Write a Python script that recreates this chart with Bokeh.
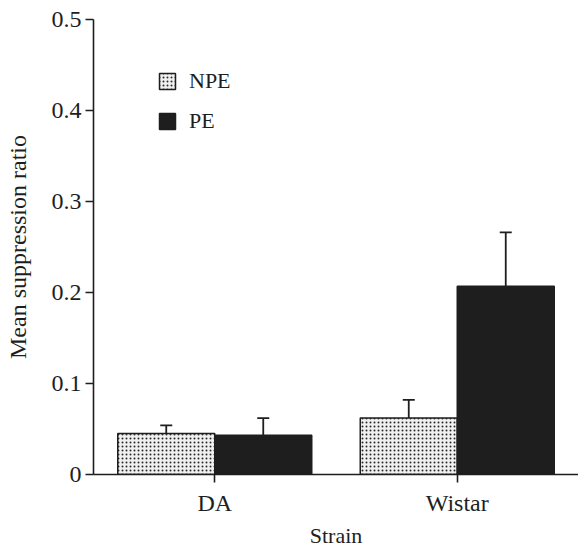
from bokeh.plotting import figure
from bokeh.models import (ColumnDataSource, FactorRange, FixedTicker, Whisker, TeeHead,
                          Legend, LegendItem, Range1d)
from bokeh.transform import dodge
from bokeh.embed import file_html
from bokeh.resources import INLINE

# ---- data ----
strains = ["DA", "Wistar"]
npe_mean = [0.045, 0.062]
npe_lower = [0.035, 0.042]
npe_upper = [0.054, 0.082]
pe_mean = [0.043, 0.207]
pe_upper = [0.062, 0.266]
y_ticks = [0, 0.1, 0.2, 0.3, 0.4, 0.5]
y_tick_labels = ["0", "0.1", "0.2", "0.3", "0.4", "0.5"]

FONT = "Liberation Serif"
DARK = "#1e1e1e"

src = ColumnDataSource(dict(strain=strains, npe=npe_mean, npe_lo=npe_lower, npe_hi=npe_upper,
                            pe=pe_mean, pe_hi=pe_upper))

p = figure(width=578, height=550, x_range=FactorRange(factors=strains, range_padding=0),
           y_range=Range1d(0, 0.5), output_backend="svg", toolbar_location=None,
           min_border_left=93, min_border_right=0, min_border_top=19, min_border_bottom=73)
p.outline_line_color = None
p.xgrid.grid_line_color = None
p.ygrid.grid_line_color = None
p.background_fill_color = "white"
p.border_fill_color = "white"

r_npe = p.vbar(x=dodge("strain", -0.2, range=p.x_range), top="npe", width=0.4, bottom=0, source=src,
               fill_color="#f0f0f0", line_color=DARK, line_width=1.5,
               hatch_pattern="dot", hatch_scale=4, hatch_weight=1.6, hatch_color="#2a2a2a")
r_pe = p.vbar(x=dodge("strain", 0.2, range=p.x_range), top="pe", width=0.4, bottom=0, source=src,
              fill_color=DARK, line_color=DARK, line_width=1.5)

w1 = Whisker(base=dodge("strain", -0.2, range=p.x_range), upper="npe_hi", lower="npe_lo", source=src,
             line_color=DARK, line_width=1.8,
             upper_head=TeeHead(size=12, line_color=DARK, line_width=1.8),
             lower_head=TeeHead(size=12, line_color=DARK, line_width=1.8))
w2 = Whisker(base=dodge("strain", 0.2, range=p.x_range), upper="pe_hi", lower="pe", source=src,
             line_color=DARK, line_width=1.8,
             upper_head=TeeHead(size=12, line_color=DARK, line_width=1.8), lower_head=None)
p.add_layout(w1)
p.add_layout(w2)

# axes
for ax in (p.xaxis[0], p.yaxis[0]):
    ax.axis_line_color = DARK
    ax.axis_line_width = 1.6
    ax.major_tick_line_color = DARK
    ax.major_tick_line_width = 1.6
    ax.minor_tick_line_color = None
    ax.major_tick_in = 0
    ax.major_label_text_font = FONT
    ax.major_label_text_font_size = "24px"
    ax.major_label_text_color = DARK
    ax.axis_label_text_font = FONT
    ax.axis_label_text_font_size = "24px"
    ax.axis_label_text_font_style = "normal"
    ax.axis_label_text_color = DARK

p.yaxis.ticker = FixedTicker(ticks=y_ticks)
p.yaxis.major_label_overrides = dict(zip(y_ticks, y_tick_labels))
p.yaxis.major_tick_out = 8
p.yaxis.major_label_standoff = 4
p.yaxis.axis_label = "Mean suppression ratio"
p.yaxis.axis_label_standoff = 18

p.xaxis.major_tick_out = 8
p.xaxis.major_label_standoff = 7
p.xaxis.axis_label = "Strain"
p.xaxis.axis_label_text_font_size = "22px"
p.xaxis.axis_label_standoff = 4

legend = Legend(items=[LegendItem(label="NPE", renderers=[r_npe]),
                       LegendItem(label="PE", renderers=[r_pe])],
                location=(64, 340), glyph_width=20, glyph_height=20, spacing=14,
                padding=0, margin=0, label_standoff=12, border_line_color=None,
                background_fill_alpha=0, label_text_font=FONT, label_text_font_size="22px",
                label_text_color=DARK)
p.add_layout(legend)

open("out.html", "w").write(file_html(p, INLINE))
